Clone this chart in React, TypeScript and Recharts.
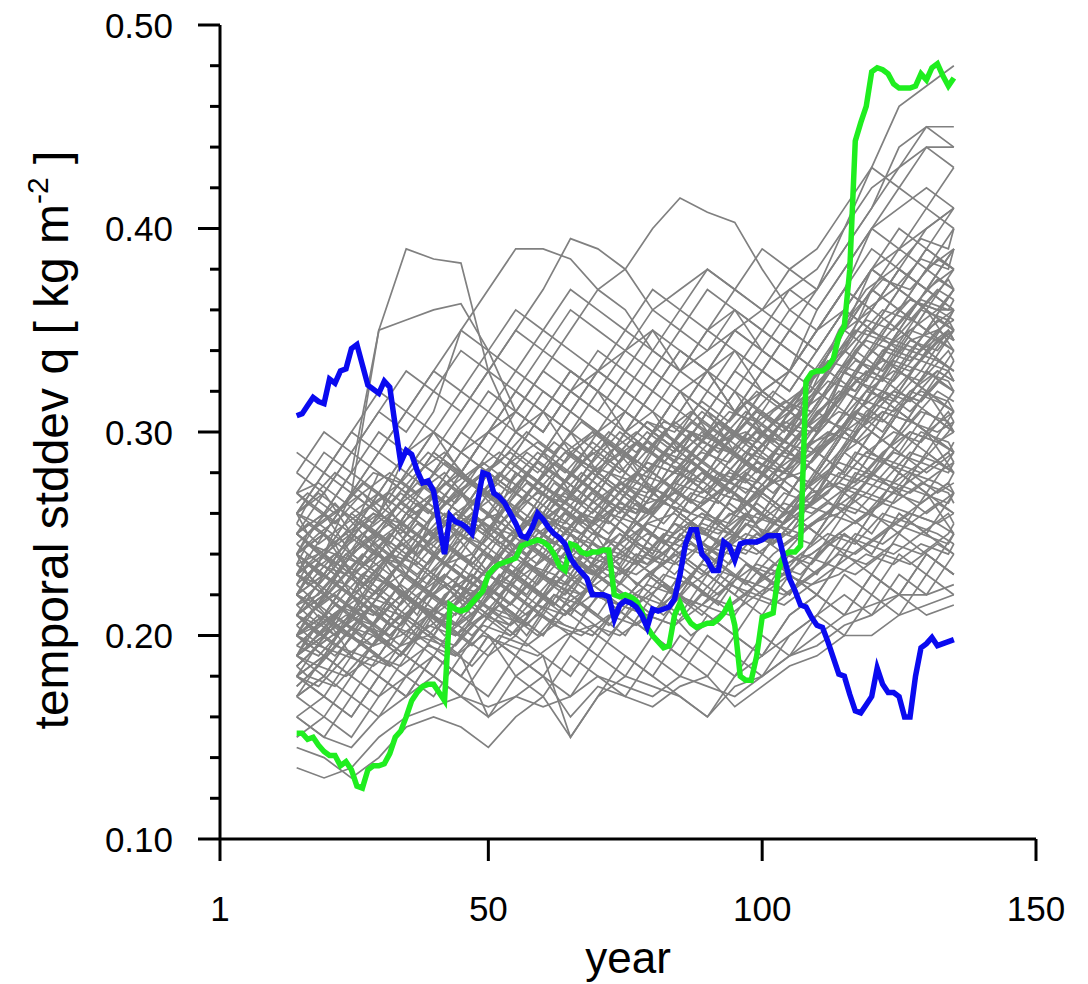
import { LineChart, Line, XAxis, YAxis, Label } from "recharts";

// 30-yr running stddev, one value per year from year 15 to 135
const FIRST_YEAR = 15;

const blueRun = [
  0.308, 0.309, 0.313, 0.317, 0.315, 0.314, 0.326, 0.324, 0.330, 0.331,
  0.341, 0.343, 0.333, 0.323, 0.321, 0.319, 0.325, 0.322, 0.303, 0.285,
  0.291, 0.289, 0.281, 0.275, 0.276, 0.271, 0.255, 0.240, 0.259, 0.256,
  0.255, 0.253, 0.250, 0.265, 0.280, 0.279, 0.270, 0.268, 0.265, 0.260,
  0.255, 0.249, 0.248, 0.253, 0.260, 0.257, 0.253, 0.250, 0.248, 0.245,
  0.238, 0.234, 0.231, 0.228, 0.220, 0.220, 0.220, 0.219, 0.208, 0.215,
  0.217, 0.216, 0.214, 0.210, 0.204, 0.213, 0.212, 0.213, 0.214, 0.218,
  0.230, 0.245, 0.252, 0.252, 0.240, 0.237, 0.232, 0.232, 0.246, 0.244,
  0.237, 0.245, 0.246, 0.246, 0.246, 0.247, 0.249, 0.249, 0.249, 0.238,
  0.228, 0.222, 0.215, 0.214, 0.209, 0.205, 0.204, 0.197, 0.189, 0.181,
  0.180, 0.171, 0.163, 0.162, 0.166, 0.170, 0.184, 0.176, 0.172, 0.172,
  0.170, 0.160, 0.160, 0.180, 0.194, 0.196, 0.199, 0.195, 0.196, 0.197,
  0.198,
];

const greenRun = [
  0.152, 0.152, 0.149, 0.150, 0.146, 0.143, 0.141, 0.141, 0.136, 0.138,
  0.134, 0.126, 0.125, 0.134, 0.136, 0.136, 0.137, 0.142, 0.150, 0.153,
  0.160, 0.168, 0.172, 0.175, 0.176, 0.176, 0.172, 0.168, 0.215, 0.213,
  0.212, 0.213, 0.216, 0.219, 0.222, 0.230, 0.233, 0.235, 0.236, 0.237,
  0.238, 0.244, 0.245, 0.246, 0.247, 0.246, 0.244, 0.240, 0.234, 0.232,
  0.245, 0.244, 0.241, 0.240, 0.241, 0.241, 0.242, 0.242, 0.220, 0.219,
  0.220, 0.219, 0.217, 0.212, 0.204, 0.200, 0.197, 0.194, 0.195, 0.210,
  0.216, 0.210, 0.206, 0.204, 0.205, 0.206, 0.206, 0.208, 0.211, 0.216,
  0.205, 0.180, 0.178, 0.178, 0.190, 0.209, 0.210, 0.211, 0.232, 0.240,
  0.241, 0.241, 0.244, 0.325, 0.329, 0.330, 0.330, 0.332, 0.336, 0.347,
  0.352, 0.380, 0.443, 0.452, 0.460, 0.477, 0.479, 0.478, 0.476, 0.471,
  0.469, 0.469, 0.469, 0.470, 0.476, 0.473, 0.479, 0.481, 0.475, 0.470,
  0.474,
];

const grayYearsA = [15, 20, 25, 30, 35, 40, 45, 50, 55, 60, 65, 70, 75, 80, 85, 90, 95, 100, 105, 110, 115, 120, 125, 130, 135];
const grayYearsB = [15, 17, 22, 27, 32, 37, 42, 47, 52, 57, 62, 67, 72, 77, 82, 87, 92, 97, 102, 107, 112, 117, 122, 127, 132, 135];
const grayYearsC = [15, 19, 24, 29, 34, 39, 44, 49, 54, 59, 64, 69, 74, 79, 84, 89, 94, 99, 104, 109, 114, 119, 124, 129, 134, 135];

const grayRunsA: number[][] = [
  [0.25, 0.26, 0.28, 0.35, 0.39, 0.385, 0.383, 0.33, 0.30, 0.31, 0.29, 0.30, 0.31, 0.30, 0.32, 0.33, 0.31, 0.32, 0.33, 0.35, 0.37, 0.40, 0.41, 0.42, 0.41],
  [0.22, 0.24, 0.25, 0.26, 0.29, 0.31, 0.35, 0.37, 0.39, 0.39, 0.385, 0.37, 0.36, 0.34, 0.33, 0.35, 0.36, 0.34, 0.33, 0.36, 0.38, 0.40, 0.39, 0.40, 0.41],
  [0.20, 0.21, 0.23, 0.24, 0.26, 0.27, 0.28, 0.30, 0.31, 0.33, 0.35, 0.37, 0.38, 0.40, 0.415, 0.408, 0.403, 0.38, 0.36, 0.37, 0.40, 0.42, 0.43, 0.45, 0.45],
  [0.24, 0.25, 0.27, 0.35, 0.355, 0.36, 0.363, 0.34, 0.31, 0.30, 0.32, 0.33, 0.34, 0.35, 0.33, 0.34, 0.35, 0.36, 0.37, 0.38, 0.40, 0.43, 0.46, 0.47, 0.48],
  [0.21, 0.22, 0.24, 0.25, 0.27, 0.29, 0.31, 0.33, 0.35, 0.37, 0.395, 0.39, 0.38, 0.36, 0.37, 0.38, 0.37, 0.36, 0.35, 0.37, 0.39, 0.41, 0.43, 0.44, 0.44],
  [0.135, 0.13, 0.135, 0.15, 0.16, 0.165, 0.17, 0.16, 0.17, 0.165, 0.17, 0.18, 0.175, 0.17, 0.18, 0.175, 0.17, 0.18, 0.19, 0.20, 0.21, 0.215, 0.22, 0.21, 0.215],
  [0.145, 0.14, 0.13, 0.14, 0.155, 0.16, 0.155, 0.145, 0.16, 0.17, 0.15, 0.17, 0.18, 0.175, 0.17, 0.16, 0.175, 0.18, 0.19, 0.195, 0.205, 0.21, 0.22, 0.22, 0.225],
  [0.16, 0.15, 0.145, 0.16, 0.17, 0.18, 0.17, 0.165, 0.17, 0.18, 0.16, 0.175, 0.17, 0.165, 0.175, 0.18, 0.165, 0.175, 0.185, 0.19, 0.20, 0.20, 0.21, 0.215, 0.22],
  [0.19, 0.20, 0.22, 0.21, 0.23, 0.22, 0.24, 0.23, 0.25, 0.24, 0.26, 0.25, 0.27, 0.26, 0.28, 0.27, 0.29, 0.28, 0.30, 0.29, 0.31, 0.33, 0.32, 0.34, 0.33],
  [0.23, 0.22, 0.24, 0.25, 0.23, 0.26, 0.27, 0.25, 0.28, 0.27, 0.29, 0.28, 0.30, 0.31, 0.29, 0.30, 0.32, 0.31, 0.30, 0.33, 0.35, 0.36, 0.38, 0.37, 0.36],
  [0.21, 0.23, 0.22, 0.20, 0.22, 0.24, 0.23, 0.22, 0.24, 0.26, 0.25, 0.23, 0.25, 0.27, 0.26, 0.28, 0.27, 0.25, 0.27, 0.29, 0.30, 0.29, 0.31, 0.30, 0.29],
  [0.26, 0.27, 0.25, 0.28, 0.27, 0.29, 0.28, 0.30, 0.29, 0.31, 0.30, 0.28, 0.30, 0.29, 0.31, 0.33, 0.32, 0.30, 0.31, 0.33, 0.34, 0.37, 0.36, 0.38, 0.39],
  [0.18, 0.19, 0.21, 0.20, 0.19, 0.21, 0.22, 0.21, 0.23, 0.22, 0.21, 0.23, 0.24, 0.23, 0.22, 0.24, 0.25, 0.24, 0.26, 0.25, 0.27, 0.28, 0.27, 0.26, 0.27],
  [0.24, 0.25, 0.23, 0.24, 0.26, 0.25, 0.27, 0.26, 0.24, 0.26, 0.28, 0.27, 0.29, 0.28, 0.27, 0.29, 0.30, 0.29, 0.31, 0.32, 0.34, 0.33, 0.35, 0.34, 0.35],
  [0.20, 0.21, 0.19, 0.21, 0.23, 0.22, 0.21, 0.23, 0.22, 0.24, 0.23, 0.25, 0.24, 0.23, 0.25, 0.24, 0.26, 0.27, 0.26, 0.28, 0.30, 0.31, 0.30, 0.32, 0.31],
  [0.22, 0.21, 0.23, 0.22, 0.24, 0.23, 0.25, 0.27, 0.26, 0.25, 0.27, 0.26, 0.28, 0.30, 0.29, 0.28, 0.30, 0.29, 0.31, 0.30, 0.32, 0.34, 0.36, 0.35, 0.37],
  [0.17, 0.18, 0.20, 0.19, 0.21, 0.20, 0.19, 0.21, 0.20, 0.22, 0.21, 0.20, 0.22, 0.21, 0.23, 0.22, 0.21, 0.23, 0.22, 0.24, 0.25, 0.24, 0.26, 0.25, 0.24],
  [0.25, 0.24, 0.26, 0.27, 0.25, 0.27, 0.29, 0.28, 0.30, 0.29, 0.27, 0.29, 0.31, 0.30, 0.32, 0.31, 0.29, 0.31, 0.33, 0.32, 0.35, 0.38, 0.40, 0.39, 0.38],
  [0.21, 0.20, 0.22, 0.24, 0.23, 0.25, 0.24, 0.26, 0.25, 0.27, 0.26, 0.28, 0.27, 0.26, 0.28, 0.27, 0.29, 0.28, 0.27, 0.29, 0.28, 0.30, 0.32, 0.31, 0.30],
  [0.19, 0.21, 0.20, 0.22, 0.21, 0.23, 0.22, 0.24, 0.23, 0.22, 0.24, 0.26, 0.25, 0.24, 0.26, 0.25, 0.27, 0.26, 0.28, 0.27, 0.29, 0.30, 0.29, 0.28, 0.29],
  [0.27, 0.26, 0.28, 0.27, 0.29, 0.30, 0.28, 0.30, 0.32, 0.31, 0.33, 0.32, 0.30, 0.32, 0.31, 0.33, 0.34, 0.32, 0.33, 0.35, 0.36, 0.38, 0.39, 0.41, 0.40],
  [0.23, 0.24, 0.22, 0.23, 0.25, 0.24, 0.23, 0.25, 0.24, 0.26, 0.25, 0.27, 0.26, 0.25, 0.27, 0.26, 0.28, 0.27, 0.26, 0.28, 0.30, 0.29, 0.31, 0.33, 0.32],
  [0.20, 0.19, 0.21, 0.20, 0.22, 0.21, 0.20, 0.22, 0.24, 0.23, 0.22, 0.24, 0.23, 0.25, 0.24, 0.26, 0.25, 0.24, 0.26, 0.27, 0.26, 0.28, 0.27, 0.29, 0.28],
  [0.22, 0.23, 0.25, 0.24, 0.22, 0.24, 0.26, 0.25, 0.27, 0.26, 0.28, 0.30, 0.29, 0.27, 0.29, 0.31, 0.30, 0.32, 0.31, 0.30, 0.33, 0.35, 0.34, 0.36, 0.35],
  [0.18, 0.17, 0.19, 0.18, 0.20, 0.19, 0.21, 0.20, 0.19, 0.21, 0.20, 0.22, 0.21, 0.20, 0.22, 0.21, 0.20, 0.22, 0.23, 0.22, 0.24, 0.23, 0.25, 0.24, 0.23],
  [0.25, 0.26, 0.24, 0.26, 0.28, 0.27, 0.26, 0.28, 0.27, 0.29, 0.31, 0.30, 0.28, 0.30, 0.29, 0.31, 0.30, 0.32, 0.31, 0.33, 0.34, 0.36, 0.35, 0.37, 0.36],
  [0.21, 0.22, 0.21, 0.23, 0.22, 0.21, 0.23, 0.22, 0.24, 0.23, 0.25, 0.24, 0.23, 0.25, 0.24, 0.26, 0.28, 0.27, 0.26, 0.28, 0.27, 0.29, 0.28, 0.30, 0.31],
  [0.24, 0.23, 0.25, 0.24, 0.26, 0.28, 0.27, 0.29, 0.28, 0.27, 0.29, 0.28, 0.30, 0.29, 0.31, 0.30, 0.29, 0.31, 0.30, 0.32, 0.34, 0.33, 0.35, 0.37, 0.38],
  [0.19, 0.20, 0.19, 0.21, 0.20, 0.22, 0.23, 0.22, 0.21, 0.23, 0.22, 0.24, 0.23, 0.25, 0.24, 0.23, 0.25, 0.24, 0.26, 0.25, 0.27, 0.29, 0.28, 0.30, 0.29],
  [0.28, 0.27, 0.29, 0.28, 0.27, 0.29, 0.28, 0.27, 0.29, 0.31, 0.30, 0.32, 0.31, 0.33, 0.32, 0.30, 0.32, 0.34, 0.33, 0.35, 0.37, 0.36, 0.38, 0.37, 0.39],
  [0.22, 0.21, 0.20, 0.22, 0.21, 0.23, 0.22, 0.24, 0.23, 0.25, 0.24, 0.26, 0.25, 0.27, 0.26, 0.25, 0.27, 0.26, 0.28, 0.27, 0.29, 0.31, 0.33, 0.32, 0.34],
  [0.17, 0.19, 0.18, 0.20, 0.19, 0.18, 0.20, 0.19, 0.21, 0.20, 0.22, 0.21, 0.20, 0.22, 0.21, 0.23, 0.22, 0.21, 0.23, 0.22, 0.24, 0.26, 0.25, 0.27, 0.26],
  [0.23, 0.25, 0.24, 0.26, 0.25, 0.24, 0.26, 0.28, 0.27, 0.29, 0.28, 0.27, 0.29, 0.28, 0.30, 0.29, 0.31, 0.30, 0.29, 0.31, 0.32, 0.34, 0.33, 0.35, 0.34],
  [0.20, 0.22, 0.21, 0.20, 0.22, 0.24, 0.23, 0.22, 0.24, 0.23, 0.25, 0.24, 0.26, 0.25, 0.24, 0.26, 0.25, 0.27, 0.29, 0.28, 0.30, 0.32, 0.31, 0.33, 0.35],
  [0.26, 0.25, 0.27, 0.26, 0.25, 0.27, 0.26, 0.28, 0.27, 0.26, 0.28, 0.27, 0.29, 0.28, 0.27, 0.29, 0.28, 0.30, 0.29, 0.31, 0.30, 0.32, 0.31, 0.33, 0.32],
  [0.18, 0.20, 0.22, 0.21, 0.23, 0.22, 0.21, 0.23, 0.25, 0.24, 0.23, 0.25, 0.24, 0.26, 0.28, 0.27, 0.26, 0.28, 0.27, 0.29, 0.31, 0.30, 0.32, 0.34, 0.33],
  [0.21, 0.20, 0.22, 0.21, 0.20, 0.22, 0.21, 0.23, 0.22, 0.21, 0.23, 0.22, 0.21, 0.23, 0.22, 0.24, 0.23, 0.22, 0.24, 0.23, 0.25, 0.24, 0.26, 0.25, 0.27],
  [0.24, 0.26, 0.25, 0.27, 0.29, 0.28, 0.30, 0.29, 0.31, 0.30, 0.32, 0.31, 0.30, 0.32, 0.34, 0.33, 0.35, 0.34, 0.33, 0.35, 0.37, 0.39, 0.38, 0.40, 0.41],
  [0.19, 0.18, 0.20, 0.19, 0.21, 0.20, 0.22, 0.21, 0.23, 0.25, 0.24, 0.23, 0.25, 0.24, 0.26, 0.25, 0.24, 0.26, 0.25, 0.27, 0.29, 0.28, 0.30, 0.29, 0.31],
  [0.22, 0.24, 0.23, 0.25, 0.24, 0.26, 0.25, 0.24, 0.26, 0.25, 0.27, 0.29, 0.28, 0.30, 0.29, 0.28, 0.30, 0.29, 0.31, 0.30, 0.32, 0.31, 0.33, 0.32, 0.30],
  [0.16, 0.17, 0.16, 0.18, 0.17, 0.19, 0.18, 0.20, 0.19, 0.18, 0.20, 0.19, 0.21, 0.20, 0.19, 0.21, 0.20, 0.19, 0.21, 0.22, 0.21, 0.23, 0.22, 0.24, 0.23],
  [0.25, 0.24, 0.23, 0.25, 0.24, 0.26, 0.28, 0.27, 0.26, 0.28, 0.30, 0.29, 0.31, 0.30, 0.29, 0.31, 0.33, 0.32, 0.31, 0.33, 0.35, 0.37, 0.36, 0.38, 0.37],
  [0.20, 0.21, 0.23, 0.22, 0.24, 0.23, 0.22, 0.24, 0.23, 0.25, 0.24, 0.26, 0.25, 0.24, 0.26, 0.28, 0.27, 0.29, 0.28, 0.27, 0.29, 0.31, 0.30, 0.32, 0.31],
  [0.23, 0.22, 0.24, 0.23, 0.22, 0.24, 0.23, 0.25, 0.24, 0.26, 0.25, 0.24, 0.26, 0.25, 0.27, 0.26, 0.28, 0.27, 0.29, 0.28, 0.30, 0.29, 0.31, 0.30, 0.32],
  [0.19, 0.21, 0.20, 0.19, 0.21, 0.20, 0.22, 0.24, 0.23, 0.22, 0.24, 0.23, 0.25, 0.27, 0.26, 0.25, 0.27, 0.26, 0.28, 0.30, 0.32, 0.34, 0.33, 0.35, 0.36],
  [0.27, 0.29, 0.28, 0.30, 0.29, 0.28, 0.30, 0.32, 0.31, 0.30, 0.32, 0.31, 0.33, 0.32, 0.34, 0.33, 0.31, 0.33, 0.32, 0.34, 0.36, 0.38, 0.37, 0.39, 0.38],
  [0.21, 0.22, 0.24, 0.23, 0.22, 0.24, 0.23, 0.25, 0.27, 0.26, 0.25, 0.27, 0.26, 0.28, 0.27, 0.26, 0.28, 0.30, 0.29, 0.28, 0.30, 0.29, 0.31, 0.30, 0.28],
  [0.18, 0.19, 0.18, 0.20, 0.22, 0.21, 0.20, 0.22, 0.21, 0.20, 0.22, 0.21, 0.23, 0.22, 0.24, 0.23, 0.22, 0.24, 0.23, 0.25, 0.24, 0.26, 0.28, 0.27, 0.29],
  [0.24, 0.23, 0.25, 0.27, 0.26, 0.25, 0.27, 0.26, 0.28, 0.27, 0.26, 0.28, 0.27, 0.29, 0.28, 0.30, 0.29, 0.28, 0.30, 0.32, 0.31, 0.33, 0.35, 0.34, 0.36],
  [0.22, 0.23, 0.22, 0.24, 0.26, 0.25, 0.27, 0.26, 0.25, 0.27, 0.26, 0.25, 0.27, 0.26, 0.28, 0.27, 0.26, 0.28, 0.27, 0.29, 0.28, 0.30, 0.29, 0.31, 0.30],
  [0.20, 0.19, 0.21, 0.23, 0.22, 0.21, 0.23, 0.22, 0.21, 0.23, 0.25, 0.24, 0.23, 0.25, 0.24, 0.26, 0.25, 0.27, 0.26, 0.25, 0.27, 0.26, 0.28, 0.27, 0.25],
  [0.26, 0.28, 0.27, 0.26, 0.28, 0.30, 0.29, 0.28, 0.30, 0.32, 0.31, 0.33, 0.32, 0.31, 0.33, 0.32, 0.34, 0.33, 0.35, 0.34, 0.36, 0.35, 0.37, 0.36, 0.34],
  [0.17, 0.18, 0.17, 0.19, 0.18, 0.20, 0.22, 0.21, 0.20, 0.22, 0.21, 0.23, 0.22, 0.21, 0.23, 0.22, 0.24, 0.23, 0.22, 0.24, 0.26, 0.25, 0.27, 0.29, 0.28],
  [0.23, 0.24, 0.26, 0.25, 0.27, 0.26, 0.25, 0.27, 0.29, 0.28, 0.27, 0.29, 0.28, 0.27, 0.29, 0.31, 0.30, 0.29, 0.31, 0.30, 0.33, 0.32, 0.34, 0.36, 0.35],
  [0.21, 0.23, 0.25, 0.24, 0.26, 0.27, 0.29, 0.30, 0.31, 0.33, 0.32, 0.34, 0.33, 0.35, 0.34, 0.33, 0.35, 0.34, 0.36, 0.35, 0.37, 0.36, 0.38, 0.37, 0.39],
  [0.19, 0.20, 0.21, 0.23, 0.25, 0.27, 0.28, 0.30, 0.32, 0.31, 0.33, 0.32, 0.31, 0.30, 0.32, 0.31, 0.33, 0.35, 0.34, 0.33, 0.35, 0.37, 0.39, 0.38, 0.40],
  [0.25, 0.27, 0.29, 0.31, 0.30, 0.32, 0.31, 0.33, 0.32, 0.34, 0.33, 0.32, 0.34, 0.33, 0.35, 0.34, 0.36, 0.35, 0.34, 0.33, 0.35, 0.34, 0.36, 0.35, 0.37],
  [0.22, 0.24, 0.27, 0.29, 0.28, 0.30, 0.29, 0.31, 0.30, 0.29, 0.31, 0.30, 0.32, 0.31, 0.30, 0.32, 0.31, 0.33, 0.32, 0.34, 0.36, 0.38, 0.37, 0.39, 0.41],
  [0.16, 0.15, 0.17, 0.16, 0.18, 0.19, 0.18, 0.17, 0.19, 0.18, 0.17, 0.19, 0.18, 0.20, 0.19, 0.18, 0.20, 0.19, 0.21, 0.22, 0.21, 0.23, 0.22, 0.24, 0.23],
  [0.18, 0.17, 0.16, 0.18, 0.17, 0.19, 0.18, 0.20, 0.18, 0.17, 0.19, 0.18, 0.17, 0.19, 0.18, 0.20, 0.19, 0.18, 0.20, 0.21, 0.23, 0.22, 0.24, 0.23, 0.25],
  [0.15, 0.16, 0.15, 0.17, 0.18, 0.17, 0.19, 0.16, 0.18, 0.19, 0.15, 0.17, 0.19, 0.18, 0.17, 0.16, 0.18, 0.19, 0.20, 0.21, 0.22, 0.21, 0.23, 0.22, 0.24],
  [0.17, 0.16, 0.18, 0.17, 0.19, 0.18, 0.17, 0.19, 0.20, 0.19, 0.18, 0.20, 0.19, 0.18, 0.20, 0.19, 0.18, 0.20, 0.19, 0.21, 0.20, 0.22, 0.21, 0.23, 0.22],
  [0.28, 0.30, 0.29, 0.31, 0.33, 0.32, 0.34, 0.33, 0.35, 0.34, 0.36, 0.35, 0.34, 0.36, 0.35, 0.37, 0.36, 0.35, 0.37, 0.36, 0.38, 0.40, 0.42, 0.41, 0.43],
  [0.26, 0.28, 0.30, 0.32, 0.31, 0.33, 0.35, 0.34, 0.33, 0.35, 0.37, 0.36, 0.35, 0.34, 0.36, 0.38, 0.37, 0.39, 0.38, 0.37, 0.39, 0.41, 0.44, 0.45, 0.44],
  [0.24, 0.25, 0.27, 0.29, 0.31, 0.33, 0.32, 0.34, 0.36, 0.35, 0.34, 0.33, 0.35, 0.37, 0.36, 0.35, 0.37, 0.36, 0.38, 0.39, 0.41, 0.43, 0.42, 0.44, 0.43],
  [0.29, 0.28, 0.30, 0.29, 0.31, 0.30, 0.32, 0.31, 0.33, 0.32, 0.31, 0.33, 0.32, 0.34, 0.33, 0.35, 0.34, 0.33, 0.35, 0.34, 0.36, 0.35, 0.37, 0.36, 0.38],
];

const grayRunsB: number[][] = [
  [0.215, 0.22, 0.205, 0.23, 0.225, 0.21, 0.235, 0.24, 0.225, 0.25, 0.245, 0.26, 0.24, 0.255, 0.27, 0.26, 0.275, 0.265, 0.28, 0.27, 0.29, 0.31, 0.30, 0.32, 0.315, 0.31],
  [0.235, 0.23, 0.245, 0.22, 0.24, 0.25, 0.235, 0.255, 0.26, 0.245, 0.265, 0.255, 0.27, 0.28, 0.265, 0.285, 0.275, 0.29, 0.28, 0.295, 0.31, 0.33, 0.345, 0.34, 0.355, 0.35],
  [0.195, 0.2, 0.215, 0.205, 0.195, 0.215, 0.225, 0.21, 0.23, 0.22, 0.24, 0.235, 0.225, 0.245, 0.24, 0.255, 0.25, 0.26, 0.245, 0.26, 0.275, 0.27, 0.285, 0.28, 0.27, 0.275],
  [0.25, 0.245, 0.235, 0.255, 0.245, 0.265, 0.255, 0.24, 0.26, 0.275, 0.265, 0.28, 0.27, 0.26, 0.285, 0.28, 0.295, 0.285, 0.3, 0.29, 0.305, 0.325, 0.335, 0.33, 0.345, 0.34],
  [0.205, 0.21, 0.2, 0.22, 0.215, 0.2, 0.22, 0.23, 0.215, 0.235, 0.23, 0.22, 0.24, 0.235, 0.25, 0.245, 0.235, 0.255, 0.25, 0.265, 0.26, 0.28, 0.275, 0.29, 0.285, 0.28],
  [0.225, 0.235, 0.225, 0.24, 0.23, 0.245, 0.26, 0.25, 0.265, 0.255, 0.27, 0.265, 0.28, 0.275, 0.29, 0.285, 0.3, 0.29, 0.305, 0.3, 0.315, 0.34, 0.355, 0.365, 0.36, 0.37],
  [0.185, 0.18, 0.195, 0.19, 0.205, 0.2, 0.19, 0.205, 0.215, 0.2, 0.22, 0.21, 0.225, 0.215, 0.23, 0.225, 0.215, 0.235, 0.225, 0.24, 0.25, 0.245, 0.26, 0.255, 0.265, 0.26],
  [0.24, 0.25, 0.265, 0.25, 0.235, 0.25, 0.265, 0.275, 0.26, 0.28, 0.27, 0.285, 0.295, 0.28, 0.3, 0.29, 0.305, 0.295, 0.31, 0.32, 0.335, 0.33, 0.35, 0.365, 0.36, 0.355],
  [0.21, 0.205, 0.195, 0.21, 0.225, 0.215, 0.205, 0.22, 0.21, 0.225, 0.215, 0.23, 0.24, 0.225, 0.235, 0.25, 0.24, 0.255, 0.245, 0.26, 0.27, 0.29, 0.285, 0.3, 0.295, 0.3],
  [0.23, 0.225, 0.24, 0.235, 0.25, 0.24, 0.255, 0.245, 0.235, 0.25, 0.26, 0.25, 0.265, 0.26, 0.275, 0.265, 0.28, 0.275, 0.29, 0.285, 0.295, 0.31, 0.32, 0.315, 0.33, 0.325],
  [0.265, 0.27, 0.26, 0.275, 0.265, 0.28, 0.29, 0.275, 0.285, 0.3, 0.29, 0.305, 0.295, 0.285, 0.3, 0.31, 0.3, 0.315, 0.305, 0.32, 0.34, 0.36, 0.375, 0.37, 0.385, 0.38],
  [0.2, 0.195, 0.21, 0.22, 0.205, 0.215, 0.2, 0.21, 0.225, 0.215, 0.205, 0.22, 0.23, 0.22, 0.21, 0.225, 0.235, 0.225, 0.24, 0.25, 0.26, 0.255, 0.265, 0.26, 0.255, 0.26],
  [0.245, 0.24, 0.23, 0.245, 0.255, 0.24, 0.25, 0.265, 0.255, 0.27, 0.26, 0.275, 0.265, 0.28, 0.275, 0.29, 0.28, 0.27, 0.285, 0.3, 0.31, 0.325, 0.32, 0.34, 0.335, 0.33],
  [0.19, 0.2, 0.19, 0.205, 0.2, 0.215, 0.205, 0.195, 0.21, 0.205, 0.22, 0.215, 0.205, 0.22, 0.215, 0.23, 0.22, 0.235, 0.23, 0.24, 0.235, 0.25, 0.245, 0.255, 0.25, 0.245],
  [0.22, 0.215, 0.23, 0.245, 0.235, 0.225, 0.245, 0.235, 0.25, 0.24, 0.255, 0.27, 0.26, 0.25, 0.265, 0.26, 0.27, 0.265, 0.28, 0.29, 0.305, 0.3, 0.32, 0.31, 0.325, 0.32],
  [0.255, 0.265, 0.255, 0.27, 0.28, 0.27, 0.285, 0.275, 0.265, 0.28, 0.295, 0.285, 0.3, 0.29, 0.305, 0.3, 0.29, 0.305, 0.32, 0.31, 0.33, 0.35, 0.345, 0.36, 0.375, 0.37],
  [0.175, 0.18, 0.175, 0.19, 0.185, 0.2, 0.195, 0.185, 0.2, 0.195, 0.205, 0.2, 0.21, 0.205, 0.215, 0.2, 0.21, 0.22, 0.215, 0.225, 0.235, 0.23, 0.24, 0.235, 0.245, 0.24],
  [0.235, 0.245, 0.24, 0.225, 0.24, 0.235, 0.25, 0.26, 0.245, 0.255, 0.27, 0.26, 0.255, 0.27, 0.265, 0.28, 0.27, 0.285, 0.275, 0.29, 0.3, 0.295, 0.31, 0.305, 0.3, 0.305],
  [0.215, 0.21, 0.225, 0.215, 0.23, 0.245, 0.235, 0.225, 0.24, 0.255, 0.245, 0.26, 0.25, 0.265, 0.255, 0.27, 0.265, 0.28, 0.27, 0.285, 0.31, 0.33, 0.325, 0.345, 0.34, 0.35],
  [0.27, 0.265, 0.28, 0.27, 0.255, 0.27, 0.28, 0.265, 0.275, 0.29, 0.28, 0.27, 0.285, 0.295, 0.285, 0.3, 0.29, 0.305, 0.295, 0.31, 0.32, 0.335, 0.33, 0.345, 0.35, 0.345],
  [0.2, 0.21, 0.22, 0.21, 0.225, 0.215, 0.23, 0.22, 0.235, 0.225, 0.215, 0.235, 0.225, 0.24, 0.235, 0.245, 0.24, 0.25, 0.245, 0.255, 0.265, 0.26, 0.275, 0.27, 0.28, 0.285],
  [0.23, 0.24, 0.23, 0.25, 0.26, 0.25, 0.24, 0.26, 0.27, 0.255, 0.275, 0.265, 0.28, 0.27, 0.29, 0.28, 0.295, 0.3, 0.29, 0.305, 0.33, 0.32, 0.34, 0.335, 0.35, 0.355],
  [0.185, 0.19, 0.205, 0.195, 0.185, 0.2, 0.21, 0.2, 0.215, 0.205, 0.22, 0.21, 0.2, 0.215, 0.225, 0.215, 0.23, 0.22, 0.235, 0.23, 0.245, 0.24, 0.25, 0.26, 0.255, 0.25],
  [0.25, 0.255, 0.245, 0.26, 0.27, 0.26, 0.275, 0.265, 0.28, 0.27, 0.285, 0.275, 0.29, 0.3, 0.29, 0.305, 0.295, 0.31, 0.3, 0.315, 0.33, 0.345, 0.36, 0.355, 0.37, 0.365],
  [0.21, 0.215, 0.2, 0.215, 0.205, 0.22, 0.23, 0.22, 0.235, 0.245, 0.235, 0.25, 0.24, 0.255, 0.245, 0.26, 0.255, 0.265, 0.255, 0.27, 0.28, 0.275, 0.29, 0.3, 0.295, 0.29],
  [0.24, 0.23, 0.24, 0.25, 0.24, 0.255, 0.245, 0.26, 0.25, 0.265, 0.28, 0.27, 0.26, 0.275, 0.27, 0.285, 0.275, 0.29, 0.285, 0.3, 0.32, 0.34, 0.33, 0.35, 0.36, 0.36],
  [0.195, 0.2, 0.21, 0.2, 0.215, 0.225, 0.215, 0.23, 0.22, 0.21, 0.225, 0.22, 0.235, 0.23, 0.24, 0.23, 0.245, 0.24, 0.255, 0.25, 0.26, 0.27, 0.265, 0.28, 0.275, 0.27],
  [0.26, 0.25, 0.26, 0.27, 0.26, 0.275, 0.265, 0.28, 0.29, 0.28, 0.27, 0.285, 0.28, 0.295, 0.285, 0.3, 0.295, 0.285, 0.3, 0.31, 0.325, 0.32, 0.34, 0.35, 0.345, 0.35],
  [0.22, 0.23, 0.215, 0.23, 0.24, 0.23, 0.245, 0.235, 0.25, 0.24, 0.255, 0.25, 0.26, 0.255, 0.265, 0.26, 0.27, 0.265, 0.275, 0.28, 0.295, 0.31, 0.305, 0.32, 0.33, 0.325],
  [0.205, 0.2, 0.215, 0.21, 0.2, 0.215, 0.21, 0.225, 0.22, 0.235, 0.225, 0.24, 0.235, 0.25, 0.24, 0.255, 0.245, 0.26, 0.255, 0.265, 0.28, 0.3, 0.31, 0.305, 0.32, 0.315],
];

const grayRunsC: number[][] = [
  [0.225, 0.215, 0.23, 0.22, 0.235, 0.225, 0.24, 0.23, 0.25, 0.24, 0.26, 0.25, 0.265, 0.26, 0.275, 0.27, 0.28, 0.275, 0.29, 0.285, 0.3, 0.32, 0.33, 0.325, 0.34, 0.335],
  [0.2, 0.21, 0.2, 0.215, 0.21, 0.2, 0.215, 0.225, 0.215, 0.23, 0.22, 0.235, 0.225, 0.24, 0.23, 0.245, 0.235, 0.25, 0.24, 0.255, 0.265, 0.26, 0.275, 0.27, 0.265, 0.27],
  [0.245, 0.255, 0.245, 0.26, 0.25, 0.265, 0.255, 0.27, 0.26, 0.275, 0.29, 0.28, 0.27, 0.285, 0.28, 0.295, 0.29, 0.3, 0.295, 0.31, 0.33, 0.35, 0.345, 0.36, 0.355, 0.36],
  [0.215, 0.22, 0.235, 0.225, 0.215, 0.23, 0.24, 0.23, 0.245, 0.235, 0.25, 0.245, 0.235, 0.255, 0.25, 0.26, 0.255, 0.27, 0.26, 0.275, 0.285, 0.28, 0.295, 0.31, 0.305, 0.3],
  [0.19, 0.185, 0.2, 0.195, 0.21, 0.2, 0.195, 0.21, 0.205, 0.215, 0.21, 0.22, 0.215, 0.225, 0.22, 0.215, 0.23, 0.225, 0.235, 0.24, 0.25, 0.245, 0.255, 0.25, 0.26, 0.255],
  [0.235, 0.24, 0.25, 0.24, 0.255, 0.265, 0.255, 0.245, 0.26, 0.27, 0.265, 0.28, 0.27, 0.285, 0.28, 0.29, 0.285, 0.3, 0.29, 0.305, 0.32, 0.315, 0.335, 0.33, 0.35, 0.345],
  [0.21, 0.2, 0.215, 0.23, 0.22, 0.21, 0.225, 0.215, 0.23, 0.24, 0.23, 0.245, 0.24, 0.25, 0.245, 0.255, 0.25, 0.245, 0.26, 0.265, 0.275, 0.29, 0.285, 0.3, 0.295, 0.29],
  [0.26, 0.255, 0.265, 0.255, 0.27, 0.26, 0.275, 0.285, 0.275, 0.29, 0.28, 0.295, 0.285, 0.3, 0.29, 0.305, 0.295, 0.31, 0.3, 0.315, 0.34, 0.36, 0.37, 0.385, 0.38, 0.39],
  [0.185, 0.195, 0.19, 0.2, 0.19, 0.205, 0.2, 0.21, 0.2, 0.215, 0.205, 0.2, 0.215, 0.21, 0.22, 0.215, 0.225, 0.22, 0.23, 0.225, 0.235, 0.245, 0.24, 0.25, 0.245, 0.25],
  [0.23, 0.225, 0.24, 0.25, 0.24, 0.23, 0.245, 0.255, 0.25, 0.26, 0.25, 0.265, 0.275, 0.265, 0.27, 0.28, 0.275, 0.285, 0.28, 0.29, 0.305, 0.32, 0.315, 0.33, 0.325, 0.32],
  [0.2, 0.205, 0.215, 0.205, 0.22, 0.21, 0.225, 0.22, 0.235, 0.225, 0.24, 0.23, 0.245, 0.235, 0.25, 0.26, 0.25, 0.265, 0.255, 0.27, 0.275, 0.29, 0.3, 0.295, 0.31, 0.305],
  [0.25, 0.24, 0.25, 0.26, 0.255, 0.245, 0.26, 0.27, 0.26, 0.275, 0.265, 0.28, 0.29, 0.28, 0.295, 0.285, 0.3, 0.29, 0.305, 0.3, 0.315, 0.33, 0.325, 0.34, 0.35, 0.345],
  [0.175, 0.185, 0.18, 0.19, 0.185, 0.195, 0.19, 0.2, 0.195, 0.19, 0.2, 0.205, 0.2, 0.21, 0.205, 0.215, 0.21, 0.22, 0.215, 0.225, 0.23, 0.24, 0.235, 0.245, 0.24, 0.245],
  [0.24, 0.23, 0.225, 0.24, 0.235, 0.25, 0.24, 0.255, 0.245, 0.26, 0.255, 0.27, 0.26, 0.275, 0.265, 0.28, 0.27, 0.285, 0.28, 0.3, 0.31, 0.305, 0.32, 0.315, 0.33, 0.335],
  [0.215, 0.225, 0.215, 0.205, 0.22, 0.23, 0.22, 0.24, 0.23, 0.245, 0.235, 0.25, 0.245, 0.255, 0.26, 0.25, 0.265, 0.255, 0.27, 0.265, 0.29, 0.31, 0.32, 0.335, 0.33, 0.325],
  [0.27, 0.275, 0.265, 0.28, 0.275, 0.29, 0.28, 0.27, 0.285, 0.295, 0.285, 0.3, 0.29, 0.305, 0.3, 0.315, 0.305, 0.32, 0.31, 0.325, 0.34, 0.355, 0.35, 0.365, 0.36, 0.365],
  [0.195, 0.19, 0.205, 0.2, 0.19, 0.21, 0.205, 0.215, 0.21, 0.2, 0.215, 0.225, 0.215, 0.23, 0.22, 0.235, 0.23, 0.225, 0.24, 0.235, 0.25, 0.26, 0.255, 0.265, 0.275, 0.27],
  [0.23, 0.24, 0.23, 0.245, 0.255, 0.245, 0.26, 0.25, 0.265, 0.255, 0.27, 0.26, 0.275, 0.27, 0.28, 0.275, 0.29, 0.28, 0.295, 0.29, 0.3, 0.315, 0.31, 0.32, 0.315, 0.31],
  [0.205, 0.215, 0.225, 0.215, 0.205, 0.22, 0.215, 0.23, 0.225, 0.235, 0.245, 0.235, 0.25, 0.24, 0.255, 0.25, 0.245, 0.26, 0.255, 0.265, 0.28, 0.275, 0.29, 0.285, 0.3, 0.305],
  [0.255, 0.245, 0.255, 0.265, 0.275, 0.265, 0.28, 0.27, 0.285, 0.275, 0.29, 0.3, 0.29, 0.305, 0.295, 0.31, 0.3, 0.295, 0.31, 0.32, 0.35, 0.37, 0.38, 0.395, 0.39, 0.4],
  [0.22, 0.215, 0.205, 0.22, 0.23, 0.22, 0.235, 0.225, 0.24, 0.23, 0.225, 0.24, 0.25, 0.24, 0.255, 0.245, 0.26, 0.255, 0.265, 0.26, 0.27, 0.28, 0.275, 0.285, 0.28, 0.285],
  [0.185, 0.195, 0.205, 0.195, 0.2, 0.21, 0.2, 0.215, 0.205, 0.22, 0.21, 0.225, 0.215, 0.23, 0.22, 0.21, 0.225, 0.235, 0.23, 0.24, 0.25, 0.26, 0.27, 0.265, 0.275, 0.28],
  [0.24, 0.25, 0.26, 0.25, 0.265, 0.255, 0.27, 0.28, 0.27, 0.285, 0.275, 0.29, 0.28, 0.295, 0.285, 0.3, 0.29, 0.305, 0.295, 0.31, 0.33, 0.345, 0.34, 0.36, 0.375, 0.37],
  [0.21, 0.205, 0.215, 0.21, 0.225, 0.215, 0.205, 0.22, 0.23, 0.22, 0.235, 0.23, 0.24, 0.235, 0.245, 0.24, 0.25, 0.245, 0.255, 0.265, 0.275, 0.27, 0.285, 0.28, 0.29, 0.295],
  [0.225, 0.235, 0.23, 0.245, 0.235, 0.25, 0.26, 0.25, 0.24, 0.255, 0.265, 0.255, 0.27, 0.26, 0.275, 0.285, 0.275, 0.29, 0.28, 0.295, 0.3, 0.32, 0.34, 0.335, 0.35, 0.345],
  [0.19, 0.2, 0.21, 0.205, 0.195, 0.21, 0.22, 0.21, 0.225, 0.215, 0.23, 0.22, 0.215, 0.23, 0.24, 0.23, 0.245, 0.24, 0.25, 0.245, 0.26, 0.27, 0.265, 0.275, 0.27, 0.265],
  [0.26, 0.27, 0.26, 0.25, 0.265, 0.275, 0.265, 0.28, 0.29, 0.28, 0.295, 0.285, 0.3, 0.29, 0.305, 0.295, 0.31, 0.305, 0.315, 0.31, 0.33, 0.325, 0.345, 0.34, 0.355, 0.35],
  [0.2, 0.195, 0.205, 0.215, 0.205, 0.22, 0.21, 0.225, 0.215, 0.23, 0.225, 0.235, 0.23, 0.24, 0.235, 0.245, 0.24, 0.25, 0.245, 0.255, 0.26, 0.275, 0.27, 0.28, 0.29, 0.285],
  [0.235, 0.225, 0.24, 0.23, 0.245, 0.235, 0.25, 0.245, 0.235, 0.25, 0.26, 0.255, 0.265, 0.26, 0.27, 0.265, 0.275, 0.27, 0.28, 0.275, 0.29, 0.305, 0.32, 0.315, 0.33, 0.325],
  [0.18, 0.175, 0.19, 0.185, 0.195, 0.2, 0.19, 0.205, 0.2, 0.21, 0.205, 0.2, 0.215, 0.21, 0.205, 0.22, 0.215, 0.225, 0.22, 0.23, 0.24, 0.235, 0.245, 0.24, 0.25, 0.255],
];

const grayGroups = [
  { key: "a", years: grayYearsA, runs: grayRunsA },
  { key: "b", years: grayYearsB, runs: grayRunsB },
  { key: "c", years: grayYearsC, runs: grayRunsC },
];

const xTicks = [1, 50, 100, 150];
const yTicks = [
  0.1, 0.12, 0.14, 0.16, 0.18, 0.2, 0.22, 0.24, 0.26, 0.28, 0.3,
  0.32, 0.34, 0.36, 0.38, 0.4, 0.42, 0.44, 0.46, 0.48, 0.5,
];
const yMajor = [0.1, 0.2, 0.3, 0.4, 0.5];

const FONT = '"Liberation Sans", Arial, Helvetica, sans-serif';
const GRAY = "#808080";

function buildRows() {
  return blueRun.map((b, i) => {
    const year = FIRST_YEAR + i;
    const row: Record<string, number> = { year, blue: b, green: greenRun[i] };
    for (const g of grayGroups) {
      const gi = g.years.indexOf(year);
      if (gi < 0) continue;
      g.runs.forEach((run, k) => {
        if (run[gi] !== undefined) row[`${g.key}${k}`] = run[gi];
      });
    }
    return row;
  });
}

function YTick(props: any) {
  const { x, y, payload } = props;
  const major = yMajor.some((m) => Math.abs(m - payload.value) < 1e-6);
  return (
    <g>
      <line x1={x - (major ? 22 : 10)} x2={x} y1={y} y2={y} stroke="#000" strokeWidth={3} />
      {major && (
        <text x={x - 47} y={y} dy="0.36em" textAnchor="end" fontSize={35} fontFamily={FONT} fill="#000">
          {Number(payload.value).toFixed(2)}
        </text>
      )}
    </g>
  );
}

function XTick(props: any) {
  const { x, y, payload } = props;
  return (
    <g>
      <line x1={x} x2={x} y1={y} y2={y + 22} stroke="#000" strokeWidth={3} />
      <text x={x} y={y + 82} textAnchor="middle" fontSize={35} fontFamily={FONT} fill="#000">
        {payload.value}
      </text>
    </g>
  );
}

function YTitle(props: any) {
  const vb = props.viewBox || { x: 0, y: 25, width: 220, height: 814 };
  const x = vb.x + 68;
  const y = vb.y + vb.height / 2 + 8;
  return (
    <text x={x} y={y} transform={`rotate(-90, ${x}, ${y})`} textAnchor="middle" fontSize={48} fontFamily={FONT} fill="#000">
      <tspan>temporal stddev q [ kg m</tspan>
      <tspan fontSize={30} dy={-20}>-2</tspan>
      <tspan dy={20}> ]</tspan>
    </text>
  );
}

function XTitle(props: any) {
  const vb = props.viewBox || { x: 220, y: 839, width: 816, height: 145 };
  return (
    <text x={vb.x + vb.width / 2} y={vb.y + 134} textAnchor="middle" fontSize={44} fontFamily={FONT} fill="#000">
      year
    </text>
  );
}

export default function App() {
  const rows = buildRows();
  return (
    <div style={{ position: "absolute", left: 0, top: 0, background: "#fff" }}>
      <LineChart width={1088} height={984} data={rows} margin={{ top: 25, right: 52, bottom: 0, left: 0 }}>
        <XAxis
          dataKey="year"
          type="number"
          domain={[1, 150]}
          ticks={xTicks}
          interval={0}
          height={145}
          tickSize={0}
          tickMargin={0}
          tickLine={false}
          axisLine={{ stroke: "#000", strokeWidth: 3 }}
          tick={<XTick />}
        >
          <Label content={<XTitle />} />
        </XAxis>
        <YAxis
          type="number"
          domain={[0.1, 0.5]}
          ticks={yTicks}
          interval={0}
          width={220}
          tickSize={0}
          tickMargin={0}
          tickLine={false}
          axisLine={{ stroke: "#000", strokeWidth: 3 }}
          tick={<YTick />}
        >
          <Label content={<YTitle />} />
        </YAxis>
        {grayGroups.map((g) =>
          g.runs.map((_, k) => (
            <Line
              key={`${g.key}${k}`}
              dataKey={`${g.key}${k}`}
              type="linear"
              stroke={GRAY}
              strokeWidth={1.7}
              dot={false}
              connectNulls
              isAnimationActive={false}
            />
          ))
        )}
        <Line dataKey="green" type="linear" stroke="#1fee1f" strokeWidth={5.5} dot={false} isAnimationActive={false} />
        <Line dataKey="blue" type="linear" stroke="#0a0af0" strokeWidth={5.5} dot={false} isAnimationActive={false} />
      </LineChart>
    </div>
  );
}
